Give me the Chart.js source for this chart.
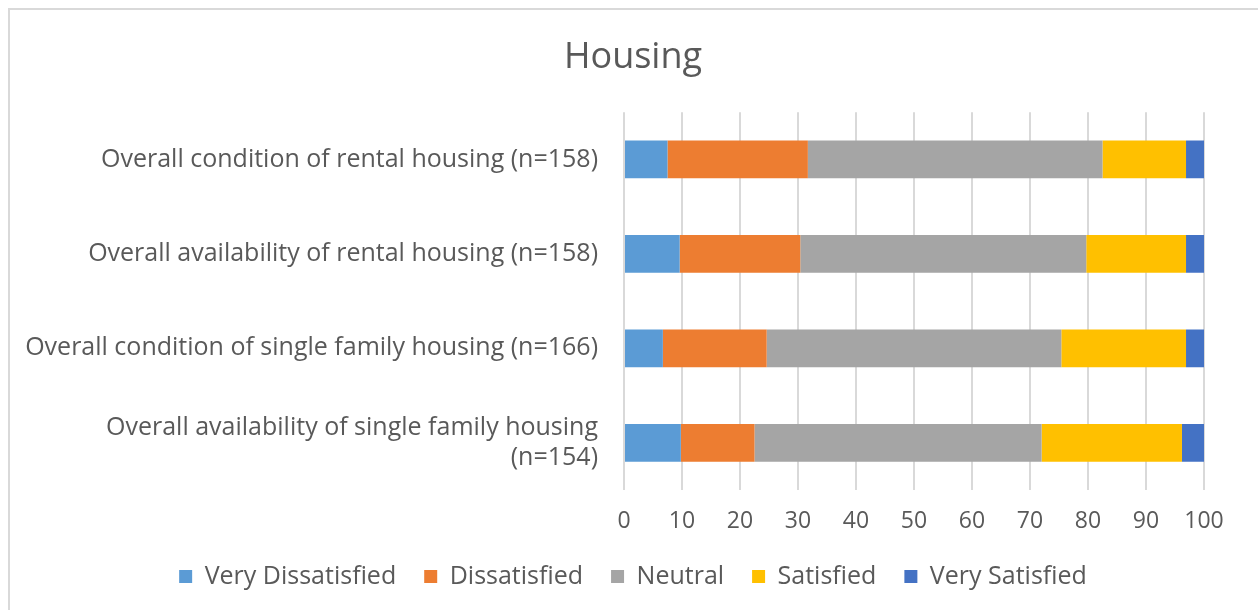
<!DOCTYPE html>
<html>
<head>
<meta charset="utf-8">
<script src="https://cdn.jsdelivr.net/npm/chart.js@4.4.1/dist/chart.umd.min.js"></script>
<style>
  body { margin: 0; background: #fff; }
  #marco { position: absolute; left: 8px; top: 8px; width: 1248px; height: 610px; border: 2px solid #d9d9d9; border-bottom: none; pointer-events: none; }
  #caja { position: absolute; left: 0; top: 0; width: 1258px; height: 610px; }
</style>
</head>
<body>
<div id="caja"><canvas id="myChart" width="1258" height="610"></canvas></div>
<div id="marco"></div>
<script>
const categorias = [
  "Overall condition of rental housing (n=158)",
  "Overall availability of rental housing (n=158)",
  "Overall condition of single family housing (n=166)",
  ["Overall availability of single family housing", "(n=154)"],
];
const series = [
  "Very Dissatisfied",
  "Dissatisfied",
  "Neutral",
  "Satisfied",
  "Very Satisfied",
];
// valores por serie, en el orden de las categorias
const muyInsatisfecho = [7.5, 9.6, 6.7, 9.8];
const insatisfecho = [24.2, 20.8, 17.9, 12.7];
const neutral = [50.8, 49.3, 50.8, 49.5];
const satisfecho = [14.4, 17.2, 21.5, 24.2];
const muySatisfecho = [3.1, 3.1, 3.1, 3.8];
const ticksX = [0, 10, 20, 30, 40, 50, 60, 70, 80, 90, 100];

const colores = ["#5B9BD5", "#ED7D31", "#A5A5A5", "#FFC000", "#4472C4"];
const valores = [muyInsatisfecho, insatisfecho, neutral, satisfecho, muySatisfecho];
const gris = "#595959";
const fuente = "'Open Sans', sans-serif";

const config = {
  type: "bar",
  data: {
    labels: categorias,
    datasets: series.map((nombre, i) => ({
      label: nombre,
      data: valores[i],
      backgroundColor: colores[i],
      borderWidth: 0,
      categoryPercentage: 1,
      barPercentage: 0.4,
    })),
  },
  options: {
    indexAxis: "y",
    responsive: false,
    animation: false,
    layout: { padding: { top: 36, right: 0, bottom: 11, left: 8 } },
    plugins: {
      title: {
        display: true,
        text: "Housing",
        color: gris,
        font: { family: fuente, size: 36, weight: "normal" },
        padding: { top: 0, bottom: 33 },
      },
      legend: {
        position: "bottom",
        labels: {
          color: gris,
          font: { family: fuente, size: 25 },
          boxWidth: 13,
          boxHeight: 13,
          padding: 28,
        },
      },
      tooltip: { enabled: false },
    },
    scales: {
      x: {
        stacked: true,
        min: 0,
        max: 100,
        afterBuildTicks: (scale) => {
          scale.ticks = ticksX.map((v) => ({ value: v }));
        },
        afterFit: (scale) => {
          scale.height = 46;
        },
        grid: { color: "#d9d9d9", lineWidth: 2, drawTicks: false },
        border: { display: false },
        ticks: { color: gris, font: { family: fuente, size: 23 }, padding: 18 },
      },
      y: {
        stacked: true,
        afterFit: (scale) => {
          scale.width = 616;
        },
        grid: { display: false, drawTicks: false },
        border: { display: false },
        ticks: { color: gris, font: { family: fuente, size: 25 }, padding: 26 },
      },
      // eje vacio a la derecha, solo deja el margen
      margenDer: {
        type: "category",
        position: "right",
        afterFit: (scale) => {
          scale.width = 54;
        },
        grid: { display: false, drawTicks: false },
        border: { display: false },
        ticks: { display: false },
      },
    },
  },
};

new Chart(document.getElementById("myChart"), config);
</script>
</body>
</html>
